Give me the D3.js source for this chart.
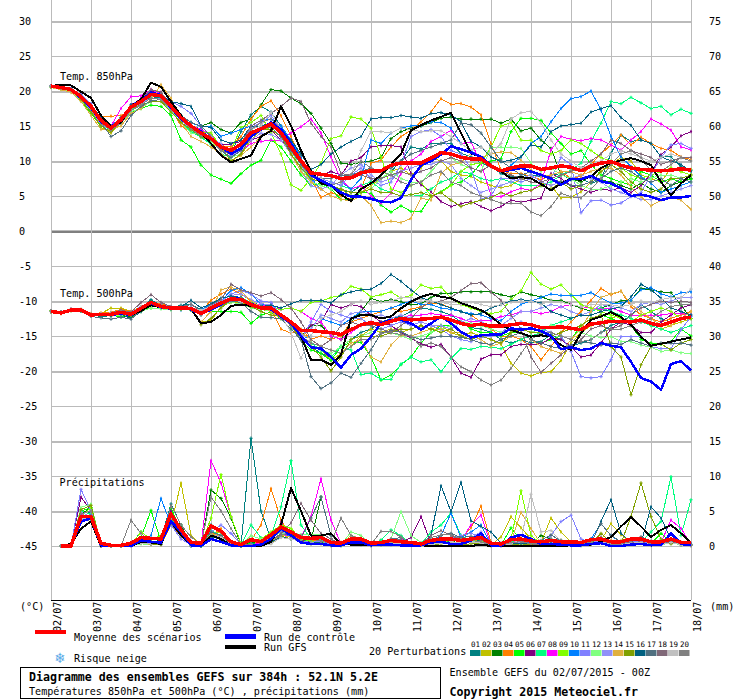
<!DOCTYPE html>
<html>
<head>
<meta charset="utf-8">
<script src="https://cdn.jsdelivr.net/npm/d3@7"></script>
<style>
html, body { margin: 0; padding: 0; background: #fff; }
svg { display: block; }
text { font-family: "DejaVu Sans Mono", monospace; font-size: 10.1px; fill: #000; }
.bold { font-weight: bold; font-size: 11.6px; }
.grid line { stroke: #bbb; shape-rendering: crispEdges; }
.grid path { display: none; }
.run { fill: none; stroke-linejoin: round; shape-rendering: crispEdges; }
</style>
</head>
<body>
<svg width="740" height="700"></svg>
<script>
const dayLabels = ['02/07','03/07','04/07','05/07','06/07','07/07','08/07','09/07','10/07','11/07','12/07','13/07','14/07','15/07','16/07','17/07','18/07'];
const leftTicks = [30,25,20,15,10,5,0,-5,-10,-15,-20,-25,-30,-35,-40,-45];
const rightTicks = [75,70,65,60,55,50,45,40,35,30,25,20,15,10,5,0];
const pertColors = ['#008080','#c0c000','#008000','#ff8000','#00ff00','#800080','#00ff80','#ff00ff','#80ff00','#0080ff','#8080ff','#80ff80','#9090f8','#e0b040','#80a000','#006080','#507080','#806878','#c0c0c0','#808080'];

// temperature 850 hPa, one value every 6h
const t850Mean = [20.7,20.5,20.2,19.2, 17.8,15.8,14.7,15.9, 17.7,18.5,19.5,19.3, 17.8,16.2,15.0,14.0, 13.2,12.0,11.5,12.4, 14.0,14.6,15.3,14.0, 12.0,10.0,8.3,8.1, 7.9,7.5,7.6,8.3, 8.6,8.6,9.4,9.7, 9.7,9.7,10.4,11.2, 11.0,10.5,10.3,10.3, 9.3,8.6,9.0,9.3, 9.3,8.8,9.0,9.3, 9.1,8.6,9.3,9.7, 9.9,9.4,9.0,8.8, 8.7,8.6,8.7,8.9, 8.7];
const t850Control = [20.7,20.5,20.2,19.0, 17.6,15.6,14.8,16.0, 17.8,18.6,19.8,19.4, 17.6,16.0,15.0,14.2, 13.2,12.0,11.0,11.8, 13.5,14.5,15.5,14.5, 12.5,10.0,8.0,7.2, 6.5,5.5,4.9,4.9, 4.6,4.2,4.1,4.7, 7.3,9.4,10.0,10.9, 12.1,11.7,11.2,10.6, 9.4,8.6,8.7,9.0, 8.5,8.0,7.5,6.6, 7.4,7.4,7.9,7.1, 6.8,6.1,5.0,5.2, 4.9,4.4,4.8,4.8, 5.0];
const t850Gfs = [20.7,20.9,20.8,19.9, 19.0,16.5,15.0,15.5, 17.8,18.8,21.2,20.6, 18.5,16.5,15.0,14.0, 12.5,10.8,9.8,10.3, 10.8,13.5,14.3,17.8, 15.0,11.5,8.5,6.8, 6.5,5.2,4.3,6.0, 6.8,8.0,9.5,11.0, 14.4,15.1,15.8,16.3, 16.9,14.0,11.1,10.6, 9.4,8.5,7.5,7.7, 7.5,6.7,5.8,6.8, 7.5,7.3,7.8,9.0, 9.7,10.1,10.4,10.0, 9.4,7.0,5.1,6.8, 8.0];
const t850Perts = [
  [20.7,20.4,20.2,19.0, 17.5,15.5,14.6,15.8, 17.5,18.4,19.2,19.0, 17.6,16.0,15.0,14.6, 13.6,11.8,11.0,14.2, 16.6,17.8,17.0,15.0, 12.5,9.8,7.5,7.0, 6.5,5.8,5.5,6.5, 7.0,7.5,8.5,10.0, 12.0,11.7,12.5,12.5, 12.5,11.1,10.6,9.7, 9.2,8.2,7.8,7.8, 8.0,7.8,8.0,8.2, 7.3,7.5,6.8,7.3, 11.1,13.7,12.8,13.0, 12.5,10.6,10.6,9.2, 8.7],
  [20.6,20.3,20.0,18.8, 17.0,14.8,14.0,15.5, 17.2,18.0,19.0,18.8, 17.5,16.2,14.8,13.8, 12.5,11.8,10.8,10.8, 13.0,14.5,14.8,13.5, 11.5,9.5,7.5,7.0, 6.5,6.0,5.0,5.5, 6.5,7.5,8.5,9.0, 8.0,9.0,10.5,10.0, 8.5,8.0,7.8,7.0, 6.5,6.2,6.5,7.5, 7.5,6.8,6.5,4.7, 4.8,5.6,7.0,8.5, 9.5,10.5,10.0,8.0, 7.5,7.0,9.0,8.5, 8.8],
  [20.7,20.5,20.3,19.3, 17.8,15.5,14.8,16.2, 18.0,18.8,19.8,19.5, 18.0,16.5,15.5,15.0, 15.5,14.5,14.0,15.5, 16.0,18.0,20.2,20.0, 19.0,18.2,16.8,14.7, 12.5,9.7,9.5,9.8, 10.0,10.5,13.2,14.2, 14.7,15.0,15.5,16.1, 16.3,16.0,16.0,16.0, 16.0,15.4,16.0,14.3, 14.7,13.0,11.8,8.0, 7.5,7.0,7.8,7.3, 7.0,6.5,6.0,6.8, 6.0,5.5,6.5,7.0, 7.5],
  [20.6,20.5,20.1,19.1, 17.6,16.3,16.4,16.5, 17.2,18.2,19.3,19.2, 17.5,15.0,14.2,13.4, 13.0,12.2,12.0,13.5, 16.0,17.8,18.6,16.5, 13.5,10.5,7.5,4.8, 5.5,5.0,4.5,6.0, 9.7,10.1,12.0,13.5, 14.4,15.6,17.0,18.9, 18.1,18.2,17.7,16.6, 12.5,8.7,8.2,8.2, 7.8,7.3,8.0,8.5, 7.5,7.8,9.5,11.0, 12.3,13.7,12.3,13.4, 12.5,11.8,11.5,10.6, 10.2],
  [20.6,20.3,20.0,18.6, 16.8,15.0,14.5,15.8, 17.0,17.5,18.0,17.8, 16.5,13.0,12.0,9.4, 8.0,7.4,6.8,8.2, 9.4,10.1,13.0,12.0, 10.0,8.0,6.5,6.8, 6.0,4.5,4.5,5.5, 5.4,3.7,2.7,3.6, 2.8,2.8,4.9,5.6, 6.6,7.0,8.0,9.7, 10.0,10.3,14.2,16.1, 16.1,15.8,14.0,12.5, 11.0,11.5,9.5,8.0, 7.5,7.0,6.5,8.5, 8.0,7.0,7.5,7.0, 7.4],
  [20.7,20.5,20.2,19.2, 17.6,15.4,14.6,15.8, 18.0,18.9,20.0,19.8, 18.0,16.2,15.0,14.0, 12.8,12.3,12.4,12.8, 13.0,13.5,14.5,13.0, 11.5,9.0,7.5,8.0, 8.5,8.0,10.0,10.5, 12.0,12.2,12.2,12.0, 8.2,6.6,5.6,4.2, 3.5,3.9,4.2,3.5, 2.9,3.5,4.4,4.1, 4.4,4.7,8.2,7.5, 6.5,6.0,5.5,6.0, 5.8,6.2,5.5,6.5, 8.2,10.9,12.0,13.6, 14.2],
  [20.6,20.4,20.1,18.9, 17.2,15.2,14.4,15.6, 17.3,18.0,19.0,18.8, 17.0,15.6,14.2,13.4, 12.4,11.0,10.5,12.0, 14.5,15.0,15.5,14.5, 12.5,10.0,8.0,7.5, 7.0,6.5,6.0,6.5, 7.0,6.0,5.5,5.0, 5.2,5.0,6.0,7.0, 7.5,8.5,8.2,7.5, 7.2,7.5,7.0,6.5, 6.5,6.5,7.0,8.0, 8.7,9.7,12.8,15.4, 18.5,18.2,19.1,18.3, 17.5,17.8,16.6,17.4, 16.8],
  [20.7,20.6,20.3,19.5, 18.0,16.0,15.0,17.5, 19.2,19.3,20.2,19.6, 17.8,16.0,15.0,14.5, 13.8,12.0,11.0,11.5, 12.5,12.8,13.0,13.0, 14.0,14.9,16.0,14.0, 10.6,7.3,6.0,6.5, 5.0,4.0,5.4,8.2, 10.0,11.0,12.8,13.5, 14.4,12.5,12.7,9.7, 5.1,4.9,5.6,6.1, 5.8,6.8,11.6,13.5, 13.1,12.9,13.2,13.0, 12.3,11.6,13.0,14.2, 16.0,15.3,14.4,12.0, 11.6],
  [20.6,20.4,20.0,18.8, 17.2,15.4,14.8,16.0, 17.4,18.2,19.0,18.8, 17.2,15.5,14.5,14.2, 14.0,12.0,11.5,14.8, 15.5,16.5,14.0,11.0, 6.6,5.8,7.5,9.7, 13.2,13.6,16.3,16.0, 14.7,10.6,6.0,5.5, 6.5,7.0,5.0,5.5, 6.5,8.5,9.5,9.7, 12.0,15.0,15.5,13.0, 13.0,11.5,11.0,11.5, 13.0,12.5,11.5,10.5, 10.0,9.0,8.0,7.5, 8.0,8.5,9.0,8.5, 8.0],
  [20.7,20.5,20.2,19.2, 17.8,15.8,15.0,16.2, 18.0,18.8,19.6,19.4, 17.8,16.5,15.5,14.9, 15.0,13.5,14.0,14.5, 15.0,15.8,16.0,15.0, 13.0,10.5,7.5,6.0, 6.5,7.0,6.0,7.5, 13.0,12.5,14.0,14.7, 15.0,15.1,15.6,15.5, 14.7,12.5,11.5,10.5, 9.5,8.5,9.4,10.6, 12.5,13.5,15.6,17.5, 18.9,19.2,20.0,17.3, 13.5,10.6,9.2,7.8, 6.8,5.5,6.0,6.5, 7.0],
  [20.7,20.6,20.3,19.5, 18.2,16.0,15.0,16.0, 18.0,18.8,19.6,19.5, 18.5,17.8,16.8,15.0, 13.5,12.0,10.8,12.0, 14.8,15.5,16.5,14.5, 12.0,9.5,7.0,7.5, 7.0,6.5,8.0,9.0, 7.5,6.5,7.0,9.5, 13.5,14.2,14.5,13.5, 11.5,11.0,9.0,4.5, 5.0,7.5,7.5,7.0, 7.5,8.0,7.5,10.5, 9.5,2.6,4.3,4.4, 3.7,4.0,4.9,5.5, 8.0,10.5,12.3,12.5, 11.8],
  [20.6,20.3,20.0,18.7, 17.0,15.0,14.6,15.4, 17.0,17.6,18.5,18.5, 17.2,15.5,14.0,13.8, 12.8,11.5,10.5,11.0, 13.5,15.0,15.5,14.0, 11.5,9.0,7.0,6.5, 6.0,5.5,5.0,5.5, 6.0,7.5,8.5,7.5, 7.0,7.0,8.5,10.0, 10.5,9.5,9.0,8.5, 12.0,12.0,12.0,11.8, 9.7,8.5,9.0,8.0, 7.5,6.5,6.0,6.0, 6.5,7.0,7.5,7.0, 7.5,8.0,8.0,7.5, 7.0],
  [20.6,20.4,20.0,18.9, 17.3,15.2,14.5,15.6, 17.4,18.2,19.0,18.9, 17.3,15.8,14.6,14.0, 13.2,12.5,10.8,11.5, 13.0,14.0,13.8,13.0, 11.0,8.5,6.5,6.0, 6.5,8.0,9.0,9.5, 8.0,7.0,7.5,8.5, 9.0,9.5,9.5,10.0, 9.5,7.5,6.5,5.5, 6.0,6.5,7.0,7.5, 8.0,7.0,6.5,7.0, 7.5,8.0,7.5,7.0, 6.0,5.5,5.0,4.5, 4.5,5.0,5.5,6.0, 6.5],
  [20.5,20.2,19.8,18.5, 16.5,14.5,14.5,15.0, 16.8,17.5,18.8,20.9, 19.0,15.5,13.5,12.8, 12.0,11.0,10.0,10.8, 12.0,13.5,14.5,13.5, 11.0,8.5,7.0,6.0, 5.0,4.5,4.3,5.0, 3.7,1.2,1.4,1.2, 1.8,4.7,4.4,8.2, 9.4,9.8,11.1,10.5, 11.0,11.3,11.2,10.1, 8.7,7.8,8.0,8.5, 8.5,8.0,8.5,9.0, 9.0,8.0,6.3,4.9, 3.6,4.4,4.9,4.4, 3.1],
  [20.6,20.4,20.1,18.8, 17.0,15.0,14.2,15.5, 17.5,18.0,18.5,18.5, 17.0,15.5,14.5,13.5, 13.0,11.8,10.0,11.0, 13.5,14.5,14.5,13.5, 11.0,9.0,7.5,7.0, 6.5,6.0,5.5,5.5, 6.0,5.5,5.5,5.0, 5.2,5.5,5.0,5.5, 4.4,3.5,4.0,4.4, 4.8,5.5,5.0,5.5, 5.8,6.5,6.0,7.0, 6.0,6.5,7.0,8.5, 9.5,8.5,7.0,6.0, 5.5,6.0,7.5,7.5, 8.0],
  [20.7,20.6,20.3,19.4, 18.0,16.2,15.0,16.0, 18.0,18.6,19.6,19.4, 18.5,18.2,17.8,15.0, 14.8,13.0,12.5,13.0, 15.0,15.0,15.5,14.5, 13.0,11.0,8.8,9.5, 11.0,12.0,12.8,13.5, 16.0,16.2,16.2,16.5, 16.3,16.1,16.8,16.9, 16.6,15.6,12.8,12.0, 10.6,9.9,10.1,10.6, 12.3,12.0,14.2,15.0, 15.2,15.4,17.0,17.5, 17.9,16.2,15.1,13.0, 12.5,10.6,10.0,9.5, 8.5],
  [20.7,20.5,20.2,19.1, 17.4,15.5,13.5,14.3, 16.5,17.8,18.6,18.8, 17.5,16.5,15.5,15.0, 13.5,11.5,10.5,11.5, 14.0,14.8,14.8,13.5, 11.5,9.5,8.0,7.5, 7.5,8.0,8.0,8.5, 9.0,8.5,9.0,10.0, 11.0,11.5,12.0,12.5, 13.0,15.4,15.2,14.0, 12.0,10.0,9.0,8.0, 8.5,8.0,7.5,7.0, 6.5,6.5,7.0,7.5, 8.5,9.0,8.5,7.5, 7.0,7.5,6.5,7.5, 7.0],
  [20.7,20.5,20.2,19.2, 17.7,15.6,14.6,16.0, 17.8,18.8,20.2,19.8, 18.0,16.4,15.2,14.2, 13.2,11.8,11.2,12.5, 15.0,15.8,16.8,17.8, 19.0,18.5,15.4,13.5, 12.0,8.2,8.0,8.0, 7.5,7.5,8.0,8.5, 8.0,8.5,9.0,10.0, 10.5,10.0,9.0,8.5, 9.5,8.5,8.0,7.5, 7.0,7.0,7.5,8.0, 8.5,9.0,10.0,11.0, 13.0,12.5,11.5,11.0, 10.5,9.5,10.0,10.5, 10.5],
  [20.7,20.5,20.2,19.2, 17.6,15.5,14.7,16.0, 17.6,18.4,19.4,19.2, 17.6,16.0,15.0,14.2, 13.4,12.0,11.5,12.5, 14.5,15.0,17.0,14.5, 12.0,10.0,8.0,7.5, 6.5,7.0,8.0,11.5, 14.2,14.2,14.0,14.7, 14.5,14.2,14.3,14.3, 13.5,12.5,11.5,12.0, 11.0,12.5,16.0,16.9, 17.1,15.4,13.0,11.0, 10.0,9.0,9.5,10.0, 11.0,11.5,11.0,10.5, 10.0,10.5,11.0,10.5, 10.0],
  [20.6,20.4,20.1,19.0, 17.4,15.4,14.4,15.4, 17.2,18.0,19.0,18.8, 17.4,16.0,14.6,13.6, 13.0,11.5,11.0,12.5, 14.5,15.5,16.0,14.5, 12.0,10.0,7.8,7.0, 6.5,7.0,8.0,10.0, 9.0,8.5,8.0,7.0, 6.5,7.0,8.0,8.5, 7.0,6.5,5.5,5.0, 4.5,4.0,4.0,4.0, 2.7,2.2,3.5,5.4, 4.9,4.7,6.0,7.5, 9.5,11.0,11.5,10.5, 8.5,8.5,9.5,10.5, 10.0]
];

// temperature 500 hPa
const t500Mean = [-11.5,-11.7,-11.3,-11.3, -12.0,-11.9,-11.9,-11.6, -11.9,-11.05,-10.2,-10.8, -11.0,-11.0,-11.05,-11.8, -11.0,-10.3,-9.7,-9.8, -10.5,-11.0,-11.0,-12.0, -13.0,-14.2,-14.2,-14.4, -14.5,-14.8,-14.1,-13.4, -13.1,-13.4,-12.9,-12.5, -12.7,-12.6,-12.5,-12.3, -12.7,-13.2,-13.5,-13.3, -13.6,-13.6,-13.4,-13.2, -13.4,-13.8,-13.8,-13.7, -13.9,-14.1,-13.3,-13.1, -12.9,-12.9,-13.0,-12.7, -13.2,-13.5,-13.0,-12.5, -12.3];
const t500Control = [-11.5,-11.6,-11.3,-11.4, -12.0,-12.0,-12.0,-11.8, -12.0,-11.1,-10.3,-10.9, -11.1,-11.0,-11.2,-11.9, -11.2,-10.5,-9.6,-9.7, -10.4,-11.0,-11.2,-12.2, -13.2,-15.0,-16.6,-16.8, -18.0,-19.5,-17.7,-16.8, -15.1,-13.2,-12.7,-12.7, -13.2,-14.1,-13.2,-12.2, -13.2,-14.4,-15.2,-14.9, -14.8,-14.8,-13.9,-14.1, -13.9,-14.3,-15.0,-16.9, -16.6,-17.0,-16.8,-16.0, -16.4,-16.6,-18.7,-21.0, -21.5,-22.7,-19.0,-18.6, -19.9];
const t500Gfs = [-11.5,-11.6,-11.2,-11.3, -12.0,-12.0,-11.9,-11.8, -12.0,-11.4,-10.6,-10.9, -11.0,-11.1,-11.1,-13.2, -13.0,-12.0,-10.7,-10.5, -10.7,-11.0,-11.0,-12.0, -13.2,-15.1,-18.4,-18.4, -19.1,-17.7,-12.5,-12.0, -12.0,-12.5,-12.2,-11.05, -10.1,-9.4,-9.0,-9.4, -9.6,-10.3,-10.8,-11.3, -12.2,-13.4,-14.1,-14.6, -15.1,-14.9,-15.1,-16.3, -17.0,-14.6,-12.7,-12.2, -11.6,-12.3,-13.4,-15.1, -16.4,-16.1,-15.8,-15.5, -15.2];
const t500Perts = [
  [-11.5,-11.6,-11.3,-11.4, -12.0,-12.2,-12.1,-11.9, -12.3,-11.2,-9.8,-10.7, -11.0,-10.6,-10.5,-11.2, -10.5,-9.8,-9.3,-9.5, -10.2,-10.6,-11.0,-12.0, -13.5,-15.2,-16.5,-17.5, -18.0,-16.5,-15.5,-14.5, -14.0,-13.0,-12.5,-12.2, -11.5,-11.0,-11.2,-11.5, -12.0,-13.0,-13.8,-14.0, -14.5,-15.5,-16.0,-15.5, -16.0,-15.8,-14.8,-15.5, -16.5,-16.0,-15.5,-14.5, -13.5,-13.0,-12.0,-10.5, -11.5,-12.5,-13.0,-12.5, -12.0],
  [-11.5,-11.7,-11.2,-11.4, -12.1,-11.8,-11.0,-11.0, -11.5,-10.8,-10.2,-10.6, -10.9,-11.2,-11.3,-13.0, -12.8,-10.8,-10.2,-10.3, -10.5,-11.2,-11.5,-12.2, -13.5,-15.0,-16.0,-17.0, -18.5,-17.5,-16.5,-15.0, -14.0,-14.5,-14.0,-14.5, -14.0,-13.5,-14.0,-13.5, -14.5,-15.0,-14.5,-15.0, -15.5,-16.2,-18.9,-20.3, -20.7,-20.2,-20.1,-18.5, -16.0,-14.5,-13.5,-13.0, -12.5,-12.0,-12.5,-13.0, -13.5,-14.0,-13.5,-13.0, -12.5],
  [-11.4,-11.6,-11.3,-11.2, -12.0,-11.8,-11.9,-12.2, -12.3,-11.5,-10.2,-10.4, -10.8,-10.8,-11.0,-11.8, -11.2,-10.2,-9.5,-9.8, -10.2,-10.8,-10.8,-12.0, -13.5,-15.0,-13.5,-13.5, -15.0,-15.5,-13.0,-11.5, -9.6,-10.1,-9.8,-10.1, -10.5,-10.4,-9.5,-8.9, -8.9,-8.7,-8.7,-8.7, -8.7,-9.1,-9.4,-8.7, -9.1,-9.4,-9.9,-9.9, -10.5,-11.0,-11.5,-11.0, -10.5,-10.0,-9.9,-8.2, -8.4,-8.7,-8.8,-10.6, -12.5],
  [-11.5,-11.8,-11.2,-11.3, -11.8,-11.7,-11.6,-11.2, -11.5,-10.9,-10.5,-10.4, -10.8,-11.0,-11.0,-11.5, -9.9,-9.0,-8.3,-9.0, -10.0,-10.8,-11.2,-14.0, -14.6,-14.0,-15.5,-15.0, -15.5,-15.0,-13.0,-12.5, -12.0,-11.5,-11.0,-11.5, -11.2,-10.8,-10.3,-10.4, -11.0,-11.5,-12.0,-13.0, -14.0,-15.0,-15.0,-15.5, -16.5,-18.4,-16.5,-14.5, -13.0,-11.5,-9.9,-8.2, -9.1,-8.6,-10.8,-12.0, -12.5,-13.0,-12.5,-12.0, -11.5],
  [-11.5,-11.6,-11.3,-11.3, -12.0,-12.1,-12.0,-12.3, -11.8,-11.3,-11.0,-11.1, -11.2,-11.2,-11.3,-11.5, -11.5,-11.5,-11.5,-11.6, -13.2,-12.0,-11.6,-12.5, -14.0,-15.5,-17.0,-17.5, -18.5,-16.5,-15.9,-15.9, -18.0,-21.3,-20.6,-19.1, -18.0,-16.0,-14.5,-13.5, -13.5,-13.0,-14.0,-14.5, -14.5,-15.0,-14.5,-14.5, -15.5,-16.0,-15.5,-15.0, -15.5,-13.5,-12.5,-12.0, -12.5,-13.0,-13.5,-15.5, -16.0,-16.2,-15.8,-14.0, -15.0],
  [-11.5,-11.6,-11.2,-11.3, -12.0,-12.1,-11.9,-11.6, -12.0,-11.0,-10.4,-10.9, -11.0,-11.1,-11.0,-11.6, -11.0,-10.4,-9.8,-9.9, -10.5,-11.0,-11.3,-12.2, -13.2,-14.5,-13.5,-13.0, -10.5,-11.0,-10.5,-10.8, -12.0,-13.0,-13.5,-14.5, -15.3,-16.1,-16.6,-16.2, -18.0,-20.3,-20.9,-18.3, -17.7,-17.7,-16.5,-16.2, -16.2,-16.1,-15.3,-15.5, -16.5,-18.0,-17.7,-16.0, -14.0,-13.0,-13.5,-14.5, -14.5,-13.0,-12.0,-11.0, -10.5],
  [-11.5,-11.7,-11.2,-11.4, -12.0,-11.9,-11.9,-11.7, -11.9,-11.2,-10.5,-10.6, -11.0,-11.0,-11.0,-11.6, -10.8,-10.2,-9.6,-9.5, -10.2,-10.9,-11.1,-12.0, -13.5,-15.0,-16.0,-17.0, -18.0,-16.5,-17.0,-20.5, -20.3,-21.2,-21.2,-19.0, -18.0,-18.7,-18.4,-20.1, -18.2,-16.8,-16.9,-16.5, -16.6,-16.8,-16.2,-15.5, -15.0,-14.5,-13.5,-13.0, -12.5,-12.0,-11.5,-11.0, -11.5,-12.0,-12.5,-13.0, -13.5,-14.0,-14.5,-14.0, -13.5],
  [-11.4,-11.6,-11.2,-11.3, -11.9,-11.9,-11.8,-11.5, -11.7,-11.0,-10.3,-10.6, -10.9,-11.0,-11.0,-11.2, -10.6,-10.0,-9.8,-10.0, -10.5,-10.5,-10.8,-11.2, -11.0,-11.5,-12.5,-13.0, -15.0,-15.5,-14.5,-13.5, -13.0,-13.2,-12.8,-12.5, -12.0,-12.0,-11.8,-12.0, -12.0,-12.5,-13.0,-12.8, -12.8,-12.2,-12.0,-11.5, -11.5,-11.8,-11.5,-10.8, -10.5,-10.8,-11.0,-11.2, -11.0,-11.5,-12.0,-12.0, -12.0,-12.0,-11.8,-11.8, -12.0],
  [-11.4,-11.6,-11.3,-11.3, -12.0,-11.8,-11.7,-11.4, -11.8,-10.9,-10.6,-10.8, -11.1,-11.0,-11.1,-11.4, -10.8,-10.2,-9.8,-10.0, -10.6,-11.2,-11.0,-11.2, -11.0,-11.5,-10.2,-10.0, -9.5,-9.2,-7.9,-8.3, -9.4,-9.1,-8.7,-9.6, -9.2,-7.7,-8.2,-8.0, -9.6,-10.5,-11.0,-11.5, -11.8,-11.5,-9.8,-8.5, -5.9,-7.6,-8.3,-7.7, -9.1,-10.5,-11.0,-11.5, -12.0,-12.5,-13.0,-12.0, -11.5,-11.0,-11.5,-12.5, -12.5],
  [-11.5,-11.6,-11.3,-11.3, -12.0,-11.9,-11.9,-11.7, -12.0,-11.4,-10.6,-11.0, -11.2,-11.3,-11.0,-11.2, -10.5,-10.0,-8.5,-8.1, -9.0,-10.5,-10.5,-12.0, -13.5,-15.5,-15.0,-12.5, -13.0,-13.5,-12.5,-11.5, -11.5,-11.5,-11.0,-10.5, -10.0,-10.5,-10.5,-11.0, -11.2,-11.5,-11.8,-12.0, -12.5,-12.8,-11.5,-10.5, -10.0,-9.5,-9.0,-9.2, -9.2,-9.2,-8.8,-9.6, -10.3,-10.3,-9.9,-8.4, -8.1,-9.0,-9.4,-8.8, -8.7],
  [-11.5,-11.6,-11.2,-11.3, -12.0,-11.9,-11.8,-11.6, -11.7,-11.0,-10.6,-10.9, -11.0,-11.0,-11.0,-11.5, -10.8,-10.0,-9.0,-8.5, -9.0,-10.0,-10.2,-12.0, -13.5,-15.5,-13.0,-10.5, -11.5,-12.0,-12.5,-12.5, -13.5,-14.0,-13.5,-13.0, -13.5,-13.0,-13.5,-14.0, -15.0,-15.5,-15.8,-15.2, -15.0,-14.5,-13.5,-13.0, -13.5,-14.0,-14.5,-15.0, -17.2,-20.8,-21.0,-20.8, -18.4,-15.1,-15.1,-15.1, -16.5,-16.8,-16.8,-14.1, -12.2],
  [-11.5,-11.6,-11.3,-11.4, -12.0,-12.0,-12.1,-12.0, -12.0,-11.5,-11.0,-11.1, -11.3,-11.2,-11.2,-11.8, -11.4,-10.6,-10.2,-10.4, -11.0,-11.2,-11.4,-12.5, -14.0,-15.5,-16.5,-17.0, -17.5,-16.5,-15.5,-15.0, -14.5,-14.0,-14.5,-15.0, -15.5,-15.0,-14.5,-14.0, -13.5,-13.0,-13.2,-13.5, -14.0,-14.5,-14.2,-14.0, -14.5,-14.0,-13.5,-13.5, -14.0,-14.5,-15.0,-15.2, -15.1,-15.8,-15.8,-16.3, -16.6,-17.2,-17.0,-17.4, -17.5],
  [-11.5,-11.6,-11.3,-11.3, -12.0,-11.8,-11.7,-11.6, -11.6,-10.8,-10.3,-10.6, -10.8,-10.9,-10.9,-11.4, -10.7,-10.0,-9.2,-9.0, -9.8,-10.4,-10.5,-12.2, -13.5,-15.0,-14.0,-12.0, -12.5,-13.0,-11.8,-11.5, -12.0,-12.0,-12.5,-12.0, -12.5,-13.0,-13.5,-13.5, -14.0,-13.0,-12.5,-13.0, -13.5,-13.5,-12.5,-11.5, -11.5,-11.0,-10.5,-10.8, -11.5,-12.0,-11.5,-10.5, -10.8,-11.0,-11.5,-10.5, -10.2,-10.5,-10.0,-9.5, -9.5],
  [-11.6,-11.8,-11.3,-11.3, -11.9,-11.9,-11.8,-11.5, -11.8,-11.0,-10.6,-10.9, -11.0,-10.9,-11.2,-13.0, -11.5,-8.4,-8.0,-8.6, -10.0,-10.8,-11.5,-12.5, -13.0,-14.5,-15.5,-16.5, -17.0,-17.5,-16.0,-15.5, -18.0,-18.7,-16.3,-14.9, -15.0,-14.5,-14.0,-14.0, -14.5,-14.5,-15.0,-15.5, -16.5,-16.0,-15.0,-14.5, -15.5,-16.5,-17.0,-17.5, -15.5,-14.0,-11.5,-9.5, -9.0,-8.6,-10.5,-11.5, -12.5,-13.5,-13.5,-12.5, -11.5],
  [-11.5,-11.6,-11.4,-11.3, -11.9,-12.0,-12.1,-11.7, -12.0,-11.2,-10.4,-10.8, -11.0,-11.2,-11.2,-13.4, -12.5,-11.0,-9.8,-10.0, -10.8,-11.5,-12.0,-12.2, -13.5,-15.5,-16.5,-18.0, -20.0,-18.0,-15.5,-15.0, -15.0,-15.0,-14.5,-14.0, -14.0,-13.5,-14.0,-14.5, -14.0,-15.0,-15.5,-15.0, -15.5,-16.0,-14.5,-14.0, -14.5,-14.5,-15.0,-14.5, -14.0,-13.5,-12.5,-12.0, -16.5,-18.0,-23.4,-19.1, -16.5,-16.1,-17.0,-16.0, -15.5],
  [-11.5,-11.6,-11.3,-11.4, -12.0,-12.1,-12.1,-11.9, -12.5,-11.5,-10.5,-10.8, -11.0,-10.8,-9.9,-11.0, -10.4,-9.6,-9.3,-9.5, -10.4,-10.8,-10.6,-11.0, -10.4,-9.9,-9.9,-9.9, -10.3,-9.1,-8.7,-8.4, -8.3,-7.5,-6.2,-7.2, -8.4,-9.5,-10.0,-10.5, -11.0,-11.5,-12.0,-11.8, -11.0,-10.5,-10.0,-9.8, -10.0,-10.3,-11.5,-12.0, -12.5,-12.0,-12.0,-11.5, -11.2,-10.8,-9.4,-7.6, -8.4,-9.6,-11.0,-11.5, -12.0],
  [-11.5,-11.7,-11.3,-11.4, -12.2,-12.4,-12.6,-12.3, -12.6,-11.3,-10.4,-10.9, -11.2,-11.1,-11.3,-12.0, -11.2,-10.6,-10.0,-10.2, -11.5,-12.3,-12.4,-12.5, -14.0,-15.5,-20.8,-22.5, -21.7,-20.3,-20.9,-18.9, -17.0,-14.6,-14.2,-14.4, -15.1,-15.5,-15.3,-15.0, -15.0,-15.2,-15.5,-16.0, -16.2,-15.5,-15.0,-14.5, -15.5,-16.0,-16.5,-16.8, -16.3,-15.8,-16.0,-16.3, -16.0,-16.2,-15.5,-16.0, -16.5,-16.0,-16.0,-16.0, -16.3],
  [-11.4,-11.6,-11.2,-11.3, -12.0,-11.9,-11.7,-11.3, -11.6,-10.2,-9.1,-10.2, -10.8,-10.8,-10.5,-11.4, -10.6,-9.8,-7.6,-8.4, -8.8,-9.3,-8.8,-9.8, -11.0,-13.0,-15.5,-16.5, -15.5,-13.5,-13.0,-13.5, -13.5,-14.0,-14.5,-13.5, -12.5,-11.0,-10.0,-10.0, -9.5,-8.5,-7.5,-7.4, -8.7,-9.9,-12.0,-14.0, -18.0,-20.2,-18.9,-17.7, -16.5,-15.5,-14.0,-13.5, -14.0,-13.5,-12.0,-11.0, -10.5,-10.0,-10.2,-10.0, -10.2],
  [-11.5,-11.6,-11.2,-11.3, -11.9,-11.8,-11.7,-11.6, -11.8,-11.0,-10.5,-10.8, -10.9,-10.9,-11.0,-11.3, -10.8,-10.2,-9.8,-10.1, -10.5,-11.0,-11.2,-12.0, -14.5,-18.2,-15.0,-12.5, -12.0,-11.5,-10.5,-10.0, -10.5,-10.2,-10.0,-9.5, -9.5,-9.8,-10.0,-10.2, -10.5,-10.5,-10.2,-10.5, -10.8,-10.5,-10.2,-10.0, -10.0,-10.5,-10.0,-10.2, -10.5,-10.8,-10.5,-10.5, -10.5,-10.8,-10.5,-10.0, -10.2,-9.8,-9.5,-9.5, -8.3],
  [-11.5,-11.6,-11.3,-11.3, -11.9,-11.9,-11.8,-11.6, -11.9,-11.0,-10.4,-10.7, -11.0,-11.0,-11.0,-12.0, -11.0,-10.4,-9.6,-9.6, -10.4,-11.0,-11.0,-12.0, -13.5,-15.0,-16.0,-16.5, -17.0,-17.5,-16.5,-15.5, -15.5,-14.6,-14.5,-14.8, -15.0,-16.5,-16.0,-16.5, -18.0,-19.4,-20.1,-21.3, -22.0,-21.3,-19.6,-17.5, -15.5,-14.5,-14.5,-15.0, -15.5,-15.8,-15.5,-14.5, -14.0,-14.0,-13.5,-13.0, -12.5,-11.5,-10.8,-10.5, -10.5]
];

// precipitation in mm, starts at the second time step
const rainMean = [0,0,4.2,4.2, .4,.1,.1,.4, 1.2,1.1,1,4.6, 2.3,.5,.4,2.9, 2.1,.6,.2,.9, .6,1.6,2.7,2, 1.2,1.1,1.2,.5, .4,1,1,.4, .5,.8,.6,.5, .3,.8,1,1, .8,1,1.2,.4, .3,.9,1,.7, .6,.8,.6,.6, .5,.9,1,.6, .6,1,1,.6, .6,1,.5,.5];
const rainControl = [0,0,3.5,4, .1,0,0,0, .8,.6,.5,3.5, 2,.1,0,1, .6,.1,0,0, .2,1,2.5,1.5, .5,.3,.3,.1, .1,.5,.5,.1, .2,.2,.1,.1, .1,.5,.6,.3, .3,.8,1.8,.1, 0,1.2,1.6,1, .3,.3,.2,.1, .1,.3,.4,0, 0,.2,.3,.1, .2,1.8,.3,.1];
const rainGfs = [0,.3,2.5,3.5, 0,0,0,0, .6,.5,.3,3.5, 1.5,.1,0,1.5, 1,.1,0,0, 0,.6,3,8.3, 5,1.5,1.5,1.8, .3,.2,.2,.1, .1,.1,.1,.1, .1,0,0,0, 0,0,.2,0, 0,0,0,0, 0,0,0,.1, .1,.2,.6,1.3, 2.8,4.1,2.8,1.3, 2.3,3,1.8,.5];
const rainPerts = [
  [0,.1,4,5, 0,0,0,.3, 2,1,1,6, 3,0,0,3, 2,.5,.1,15.4, 5,1,3,2, 1,.5,1,.2, .3,1,.5,.2, .8,.3,.3,.2, .2,.5,.8,.5, .5,.8,.8,.2, .2,.5,.3,.2, .2,.5,.3,.2, .2,.3,1,.2, .3,.6,.4,.2, .2,.5,.2,.2],
  [0,0,3.5,4.5, .1,0,0,.2, .5,.8,1.2,3, 9,1.5,.2,2, 2,.3,.1,.5, .4,1.8,3,2, 1.5,1,.8,.3, .1,.8,1,.1, .2,.5,.3,.2, .4,.3,.8,1, .8,.6,1,.1, 1.3,4.2,2.6,1, .5,4,2,.6, .5,1,.8,3.2, 1.6,.6,.4,.2, .5,1,.4,.2],
  [0,0,4.5,5.5, .2,0,0,.1, 1,.6,.8,4, 3,.2,.1,8, 6.8,4,.2,.5, .3,1.3,2,1.5, 1.5,.8,7,1.5, .3,.6,1,.1, .3,.7,.5,.1, .2,.3,.6,.5, 1,.8,.5,.1, .1,.2,.5,.3, 1.5,1,.8,.3, .2,.5,1,.4, .4,.6,1,.3, .5,.6,.2,.1],
  [0,0,3.8,4.2, 0,0,0,.2, .6,.3,.2,3, 1.5,.1,0,1.5, 2.5,.5,.1,.8, 3,8.2,3.7,1.5, 1,.8,.7,.2, .2,1,1.1,.2, .3,.6,.5,.2, .2,.3,.5,1.2, 1,2.6,5.7,.5, .2,1,1.2,.5, .3,.6,.4,.3, .2,.5,1,.8, .6,1,1.2,.5, .4,1,.3,.2],
  [0,0,5,5.5, .1,0,0,.3, 1.2,5.1,.6,5.5, 2,.1,.1,2, 1.5,.2,0,.4, .3,1,2.5,2, 1,.6,.7,.2, .2,.8,1,.3, .8,.3,.6,.3, .2,.3,.7,.5, .4,.7,1.5,.1, .1,2.6,.8,.4, .6,.5,.4,.4, .2,.6,1,.4, .3,.4,.7,.3, 1.8,.5,.3,.1],
  [0,0,7,5, 0,0,0,.1, .4,.3,.3,5, 1.5,.1,.1,1.5, 1.2,.3,0,.2, .4,.8,3.4,1.5, .8,.5,.6,.1, .1,.5,.3,.1, .3,.4,.5,1.2, 4.2,.3,.4,.5, .3,.5,.6,.1, .1,.4,.6,.3, .2,.3,.2,.2, .1,.3,.5,.2, .2,.3,.4,.2, .3,.4,.2,.1],
  [0,0,5,4.5, 0,0,0,.2, .8,.4,.4,4, 2,.1,0,2.2, 1.5,.3,.1,3, 1.2,1.5,5.6,12.2, 3,1,.9,.2, .2,.7,.9,.3, .8,2.3,1.5,.2, .3,2,3,4.7, 1.5,.8,.6,.1, .1,.7,.5,.3, .2,.6,.4,.3, .3,.4,.5,.2, .2,.5,.6,2, 3.5,9.9,1.5,6.6],
  [0,0,4.6,4, 0,0,0,.1, .6,.5,.4,3.5, 1.5,.1,.1,12.2, 9,4.2,.4,.2, .4,.6,1.5,1.5, 1.2,4.2,9.6,3.7, .3,.6,.7,.2, .3,.6,1,.3, .3,.4,.5,1, .8,3,4.4,.2, .1,.5,.7,.3, .4,.5,.3,.2, .2,.3,.5,.2, .3,.6,.5,.3, .5,3.7,2.5,.3],
  [0,0,4.2,5.5, .1,0,0,.2, 2,1,1.5,3.5, 1.5,.1,.1,4, 10.2,4.2,.4,.7, 1,2,3,2.5, 1,.7,.6,.2, .1,.5,.6,.1, .2,.4,.5,.2, .1,.5,.8,.4, .3,.6,.7,.1, .1,1,7.9,1.5, .3,.6,.5,.3, .2,.4,.6,.3, .3,.5,.7,.2, .3,.8,.3,.1],
  [0,0,3.6,4.4, 0,0,0,.1, .8,1.5,6.8,3, 2.5,.1,.1,1.5, 1,.1,.1,.3, .2,1.5,2.2,1.2, .6,.4,.5,.1, .1,.3,.4,.1, .2,.4,.5,.3, .4,.5,1.5,4.7, 1.2,2,3,.2, .1,.4,.6,.4, .3,.4,.3,.2, .2,1,3.2,1.5, .5,.4,.6,.2, .3,.5,.3,.1],
  [0,0,8.1,5, .1,0,0,.2, 1,.4,.6,3, 1,.2,.1,2, 3,1.8,.2,.1, .3,1.2,2,1.5, .7,.5,.7,.2, .1,.5,.4,.1, .3,.4,.5,.2, .2,.4,1,1.2, 1.5,1.8,1.4,.1, .1,.5,.4,.2, .2,1.5,3.5,4.4, 1,.5,.9,.4, .2,.5,.8,.2, .4,.5,.3,.1],
  [0,0,5.5,6, .2,0,0,.1, .3,.2,.4,3.2, 1.8,.1,.1,1.5, 1,.2,.1,1.5, 1,1.5,1.8,2, 1.6,1.6,1.7,.3, .1,2,1.5,.3, .4,1,4.9,1.5, .5,.3,.4,.6, .4,.7,.6,.1, .1,.4,.3,.2, .1,.2,.2,.2, .1,.4,.6,.1, .1,.2,.4,.1, .2,.4,.2,.1],
  [0,0,4.8,4.2, 0,0,0,.1, .7,.3,.3,3.8, 1.6,.2,.1,1.7, 1.3,.4,.1,.1, .3,.5,1.6,1.2, .6,.3,.4,.1, .1,.4,.3,.1, .2,.3,.2,.2, .1,.5,.6,.4, .3,1.2,2,.1, .1,.3,.5,.3, .3,.5,.4,.2, .2,.5,.7,.2, .1,.3,.5,.2, .3,.5,.3,.1],
  [0,0,3.6,3.8, 0,0,0,.1, .5,.2,.2,3.5, 1.8,.2,.1,1.8, 1.4,.3,.1,.2, .2,.6,1.5,1.3, .5,.4,.3,.1, .3,1.5,1.1,.1, .2,.4,.3,.1, .2,.2,.3,.6, .5,1,1.2,.2, .1,.5,4.8,2.5, .3,.6,.8,.2, .2,.6,1.2,.6, .8,.5,.6,.1, .3,.8,.3,.1],
  [0,0,5.2,5.8, .1,0,0,.1, .5,.3,.2,3.6, 1.6,.1,.1,1.6, 1.1,.2,.1,.2, .2,.4,1.4,1, .7,.3,.4,.1, .1,.4,.3,.1, .2,.3,.2,.2, .1,.2,.3,.3, .2,.3,.3,.1, .1,.2,.3,.2, .2,.8,.6,.2, .2,.3,1.8,.5, .4,4.2,9,4.2, 1,.3,.5,.1],
  [0,0,3.4,3.8, 0,0,0,.1, .6,.4,.3,3.2, 1.4,.1,0,1.3, 1,.2,0,.2, .3,.6,1.3,1, .6,.4,.5,.1, .1,.3,.2,.1, .3,.2,.2,.3, .2,1.5,8.6,4.9, 9.1,3.6,2.8,2, .4,.3,.4,.3, .2,.4,.3,.2, .1,.3,3.5,6.6, 1.8,.5,.4,5.6, 4,1,.5,.3],
  [0,0,3.4,3.8, .1,0,0,.2, .5,.3,.3,3.5, 1.7,.1,.1,2, 1.5,.3,.1,.2, .2,1,1.6,1.8, 1.2,4,7,1.5, .3,.6,.8,.2, .4,1,1.2,.3, .2,.8,1.5,1.8, 1.2,1.4,1,.1, .1,.4,.8,.6, .8,1.6,.7,.2, .2,.5,3.2,1.5, .6,.6,1.3,.7, .4,.6,.4,.1],
  [0,0,4.4,4.2, 0,0,0,.1, .6,.5,.4,3.2, 1.4,.2,.1,2.6, 2,.3,.1,.2, .3,.7,1.8,3.3, 6.1,3.7,1.8,1, .3,.5,.6,.2, .3,1,.9,.4, .3,1.5,2.2,1.5, .7,1,.9,.1, .1,.4,.7,.3, .2,.8,.6,.2, .3,1,.8,.3, .3,.5,.6,.2, .2,.6,.3,.1],
  [0,0,3.8,4.2, 0,0,0,.1, .4,.3,.4,3.4, 1.5,.1,.1,1.5, 1.2,.2,.1,.1, .1,.3,1.2,1, .6,.4,.3,.2, .6,.8,.7,.2, .2,.3,.3,.1, .1,.2,.4,.6, .4,.6,.4,.1, .1,.3,1,7.4, 2,2.2,.7,.2, .2,.4,.5,.3, .2,.4,.5,.2, .2,.5,.2,.1],
  [0,0,4.6,5, 0,0,0,3.7, 1.8,.6,.4,5.8, 3,1.3,.2,7, 5,2.5,.2,.1, .3,.8,1.5,2, 1.5,1,.7,.4, 4,1.5,1,.2, 2.1,2.1,1.3,.2, .2,1.2,1.6,1.6, 1,.8,.6,.1, .1,.5,.6,.3, .3,1,.8,.3, .3,.6,1.3,.2, .2,.8,1.2,.3, .3,.9,.4,.1]
];

const hourStep = 6;
const svg = d3.select('svg');

const x = d3.scaleLinear().domain([0, 384]).range([51, 691]);
const yLeft = d3.scaleLinear().domain([-45, 30]).range([546, 21]);
const yRight = d3.scaleLinear().domain([0, 75]).range([546, 21]);

// horizontal grid with the left labels
const gridY = svg.append('g').attr('class', 'grid').attr('transform', 'translate(51,0)')
    .call(d3.axisLeft(yLeft).tickValues(leftTicks).tickSize(-640).tickFormat(d => d));
gridY.selectAll('line').attr('stroke-width', d => (d % 10 === 0 && d !== 0) ? 2 : 1);
gridY.selectAll('text').attr('text-anchor', 'start').attr('x', -32).attr('dy', '0.36em');

svg.append('line').attr('x1', 51).attr('x2', 691).attr('y1', yLeft(0) - 1).attr('y2', yLeft(0) - 1)
    .attr('stroke', '#bbb').attr('shape-rendering', 'crispEdges');
svg.append('line').attr('x1', 51).attr('x2', 691).attr('y1', yLeft(0) + 0.5).attr('y2', yLeft(0) + 0.5)
    .attr('stroke', '#808080').attr('stroke-width', 2).attr('shape-rendering', 'crispEdges');

// right labels only
const rightAxis = svg.append('g').attr('class', 'grid').attr('transform', 'translate(691,0)')
    .call(d3.axisRight(yRight).tickValues(rightTicks).tickSize(0).tickFormat(d => d));
rightAxis.selectAll('text').attr('text-anchor', 'start').attr('x', 18).attr('dy', '0.36em');

// vertical grid and date labels
const dayHours = dayLabels.map((d, i) => i * 24);
const gridX = svg.append('g').attr('class', 'grid').attr('transform', 'translate(0,600)')
    .call(d3.axisBottom(x).tickValues(dayHours).tickSize(-600).tickFormat((d, i) => dayLabels[i]));
gridX.selectAll('text')
    .attr('text-anchor', 'start')
    .attr('transform', 'translate(9,32) rotate(-90)')
    .attr('x', 0).attr('y', 0).attr('dy', 0);

svg.append('line').attr('x1', 51).attr('x2', 691).attr('y1', 600.5).attr('y2', 600.5)
    .attr('stroke', '#000').attr('shape-rendering', 'crispEdges');

function drawPanel(perts, mean, control, gfs, y, firstStep) {
    const hour = i => (i + firstStep) * hourStep;
    const line = d3.line().x((d, i) => x(hour(i))).y(d => y(d));
    const g = svg.append('g');

    perts.forEach((values, k) => {
        g.append('path').datum(values).attr('class', 'run')
            .attr('d', line).attr('stroke', pertColors[k]).attr('stroke-width', 1);
        const mark = d3.symbol().type(k % 2 ? d3.symbolDiamond : d3.symbolCross).size(k % 2 ? 5 : 6);
        g.selectAll(null).data(values).join('path')
            .attr('d', mark)
            .attr('transform', (d, i) => `translate(${x(hour(i))},${y(d)})`)
            .attr('fill', pertColors[k]);
    });

    g.append('path').datum(gfs).attr('class', 'run').attr('d', line).attr('stroke', '#000').attr('stroke-width', 2);
    g.append('path').datum(control).attr('class', 'run').attr('d', line).attr('stroke', '#0000ff').attr('stroke-width', 2.5);
    g.append('path').datum(mean).attr('class', 'run').attr('d', line).attr('stroke', '#ff0000').attr('stroke-width', 3.5);
}

drawPanel(t850Perts, t850Mean, t850Control, t850Gfs, yLeft, 0);
drawPanel(t500Perts, t500Mean, t500Control, t500Gfs, yLeft, 0);
drawPanel(rainPerts, rainMean, rainControl, rainGfs, yRight, 1);

function label(txt, px, py, cls) {
    return svg.append('text').attr('x', px).attr('y', py).attr('class', cls || null).text(txt);
}

label('Temp. 850hPa', 60, 80);
label('Temp. 500hPa', 60, 297);
label('Précipitations', 59.5, 486);
label('(°C)', 20, 610);
label('(mm)', 710, 610);

// legend
const legendRows = [
    {name: 'Moyenne des scénarios', color: '#ff0000', x1: 35, lineY: 632, textX: 74, textY: 641, w: 4},
    {name: 'Run de contrôle', color: '#0000ff', x1: 225, lineY: 636.5, textX: 264, textY: 641, w: 5},
    {name: 'Run GFS', color: '#000', x1: 225, lineY: 647, textX: 264, textY: 651, w: 4}
];
legendRows.forEach(r => {
    svg.append('line').attr('x1', r.x1).attr('x2', r.x1 + 31).attr('y1', r.lineY).attr('y2', r.lineY)
        .attr('stroke', r.color).attr('stroke-width', r.w).attr('shape-rendering', 'crispEdges');
    label(r.name, r.textX, r.textY);
});
svg.append('text').attr('x', 60).attr('y', 663).attr('text-anchor', 'middle')
    .style('font-family', '"DejaVu Sans"').style('font-size', '14px').style('fill', '#5aaae8').text('❄');
label('Risque neige', 74, 662);
label('20 Perturbations', 369, 655);

const swatch = d3.scaleBand().domain(d3.range(20)).range([470, 690]);
pertColors.forEach((c, k) => {
    svg.append('rect').attr('x', swatch(k)).attr('y', 650).attr('width', swatch.bandwidth() - 0.5).attr('height', 6).attr('fill', c);
    svg.append('text').attr('x', swatch(k) + swatch.bandwidth() / 2).attr('y', 647).attr('text-anchor', 'middle')
        .style('font-size', '7.5px').text(d3.format('02')(k + 1));
});

svg.append('rect').attr('x', 20.5).attr('y', 667.5).attr('width', 420).attr('height', 31)
    .attr('fill', 'none').attr('stroke', '#000').attr('shape-rendering', 'crispEdges');
label('Diagramme des ensembles GEFS sur 384h : 52.1N 5.2E', 29, 681, 'bold');
label('Températures 850hPa et 500hPa (°C) , précipitations (mm)', 29, 695);
label('Ensemble GEFS du 02/07/2015 - 00Z', 449.5, 676);
label('Copyright 2015 Meteociel.fr', 449.5, 696, 'bold');
</script>
</body>
</html>
